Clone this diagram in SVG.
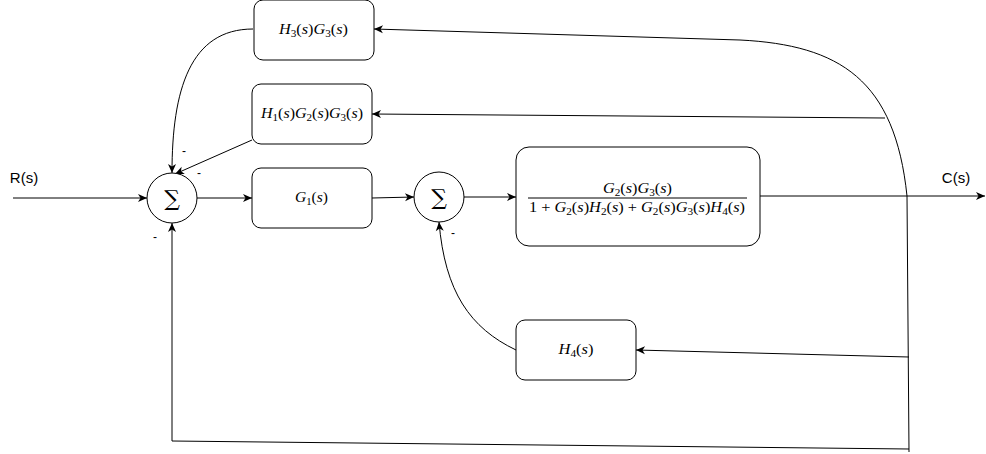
<svg xmlns="http://www.w3.org/2000/svg" width="986" height="454" viewBox="0 0 986 454">
<defs>
<marker id="arr" markerUnits="userSpaceOnUse" markerWidth="10" markerHeight="8" refX="9" refY="4" orient="auto" overflow="visible">
<path d="M0,0 L9,4 L0,8 L2.5,4 Z" fill="#000"/>
</marker>
</defs>
<style>
.box{fill:#fff;stroke:#000;stroke-width:1}
.sum{fill:#fff;stroke:#000;stroke-width:1}
.ln{fill:none;stroke:#000;stroke-width:1}
.m{font-family:"Liberation Serif","DejaVu Serif",serif;font-size:14.5px;fill:#000}
.i{font-style:italic}
.sub{font-size:10px}
.lbl{font-family:"Liberation Sans",Arial,sans-serif;font-size:15px;fill:#000}
.mn{font-family:"Liberation Sans",Arial,sans-serif;font-size:12px;fill:#000}
.sig{font-family:"DejaVu Serif","Liberation Serif",serif;font-size:22px;fill:#000}
</style>
<rect width="986" height="454" fill="#fff"/>
<g id="connectors">
<line class="ln" x1="13" y1="198" x2="147" y2="198" marker-end="url(#arr)"/>
<line class="ln" x1="197" y1="198" x2="252" y2="198" marker-end="url(#arr)"/>
<line class="ln" x1="372" y1="198" x2="414" y2="197" marker-end="url(#arr)"/>
<line class="ln" x1="463" y1="197" x2="516" y2="197" marker-end="url(#arr)"/>
<line class="ln" x1="760" y1="196" x2="985" y2="196" marker-end="url(#arr)"/>
<path class="ln" d="M907,196 C895,80 840,45 740,40 L374,29" marker-end="url(#arr)"/>
<line class="ln" x1="885" y1="118" x2="372" y2="114" marker-end="url(#arr)"/>
<line class="ln" x1="907" y1="196" x2="909" y2="452"/>
<line class="ln" x1="909" y1="357" x2="636" y2="350" marker-end="url(#arr)"/>
<line class="ln" x1="909" y1="449" x2="172" y2="441"/>
<line class="ln" x1="172" y1="441" x2="172" y2="223" marker-end="url(#arr)"/>
<path class="ln" d="M253,29 C190,29 172,90 172,173" marker-end="url(#arr)"/>
<line class="ln" x1="252" y1="140" x2="175" y2="174" marker-end="url(#arr)"/>
<path class="ln" d="M516,350 C470,328 445,292 439,222" marker-end="url(#arr)"/>
</g>
<g id="H3G3">
<rect class="box" x="254" y="0" width="120" height="60" rx="9"/>
<text class="m" x="313.5" y="34" text-anchor="middle" textLength="69" lengthAdjust="spacingAndGlyphs"><tspan class="i">H</tspan><tspan class="sub" dy="3">3</tspan><tspan dy="-3">(</tspan><tspan class="i">s</tspan>)<tspan class="i">G</tspan><tspan class="sub" dy="3">3</tspan><tspan dy="-3">(</tspan><tspan class="i">s</tspan>)</text>
</g>
<g id="H1G2G3">
<rect class="box" x="252" y="84" width="120" height="60" rx="9"/>
<text class="m" x="312" y="118" text-anchor="middle" textLength="102" lengthAdjust="spacingAndGlyphs"><tspan class="i">H</tspan><tspan class="sub" dy="3">1</tspan><tspan dy="-3">(</tspan><tspan class="i">s</tspan>)<tspan class="i">G</tspan><tspan class="sub" dy="3">2</tspan><tspan dy="-3">(</tspan><tspan class="i">s</tspan>)<tspan class="i">G</tspan><tspan class="sub" dy="3">3</tspan><tspan dy="-3">(</tspan><tspan class="i">s</tspan>)</text>
</g>
<g id="sum1">
<circle class="sum" cx="172" cy="198" r="25"/>
<text class="sig" x="172" y="206" text-anchor="middle">∑</text>
</g>
<g id="G1">
<rect class="box" x="252" y="168" width="120" height="60" rx="9"/>
<text class="m" x="311.5" y="202" text-anchor="middle" textLength="33" lengthAdjust="spacingAndGlyphs"><tspan class="i">G</tspan><tspan class="sub" dy="3">1</tspan><tspan dy="-3">(</tspan><tspan class="i">s</tspan>)</text>
</g>
<g id="sum2">
<circle class="sum" cx="439" cy="197" r="25"/>
<text class="sig" x="439" y="205" text-anchor="middle">∑</text>
</g>
<g id="Gcl">
<rect class="box" x="516" y="147" width="244" height="99" rx="13"/>
<text class="m" x="637.5" y="193" text-anchor="middle" textLength="69" lengthAdjust="spacingAndGlyphs"><tspan class="i">G</tspan><tspan class="sub" dy="3">2</tspan><tspan dy="-3">(</tspan><tspan class="i">s</tspan>)<tspan class="i">G</tspan><tspan class="sub" dy="3">3</tspan><tspan dy="-3">(</tspan><tspan class="i">s</tspan>)</text>
<line x1="528" y1="198" x2="747" y2="198" stroke="#000" stroke-width="1"/>
<text class="m" x="637" y="212" text-anchor="middle" textLength="216" lengthAdjust="spacingAndGlyphs">1 + <tspan class="i">G</tspan><tspan class="sub" dy="3">2</tspan><tspan dy="-3">(</tspan><tspan class="i">s</tspan>)<tspan class="i">H</tspan><tspan class="sub" dy="3">2</tspan><tspan dy="-3">(</tspan><tspan class="i">s</tspan>) + <tspan class="i">G</tspan><tspan class="sub" dy="3">2</tspan><tspan dy="-3">(</tspan><tspan class="i">s</tspan>)<tspan class="i">G</tspan><tspan class="sub" dy="3">3</tspan><tspan dy="-3">(</tspan><tspan class="i">s</tspan>)<tspan class="i">H</tspan><tspan class="sub" dy="3">4</tspan><tspan dy="-3">(</tspan><tspan class="i">s</tspan>)</text>
</g>
<g id="H4">
<rect class="box" x="516" y="320" width="120" height="60" rx="9"/>
<text class="m" x="576" y="354" text-anchor="middle" textLength="35" lengthAdjust="spacingAndGlyphs"><tspan class="i">H</tspan><tspan class="sub" dy="3">4</tspan><tspan dy="-3">(</tspan><tspan class="i">s</tspan>)</text>
</g>
<g id="labels">
<text class="lbl" x="24" y="183" text-anchor="middle">R(s)</text>
<text class="lbl" x="956" y="183" text-anchor="middle">C(s)</text>
<text class="mn" x="184" y="155" text-anchor="middle">-</text>
<text class="mn" x="199" y="177" text-anchor="middle">-</text>
<text class="mn" x="155" y="241" text-anchor="middle">-</text>
<text class="mn" x="453" y="237" text-anchor="middle">-</text>
</g>
</svg>
